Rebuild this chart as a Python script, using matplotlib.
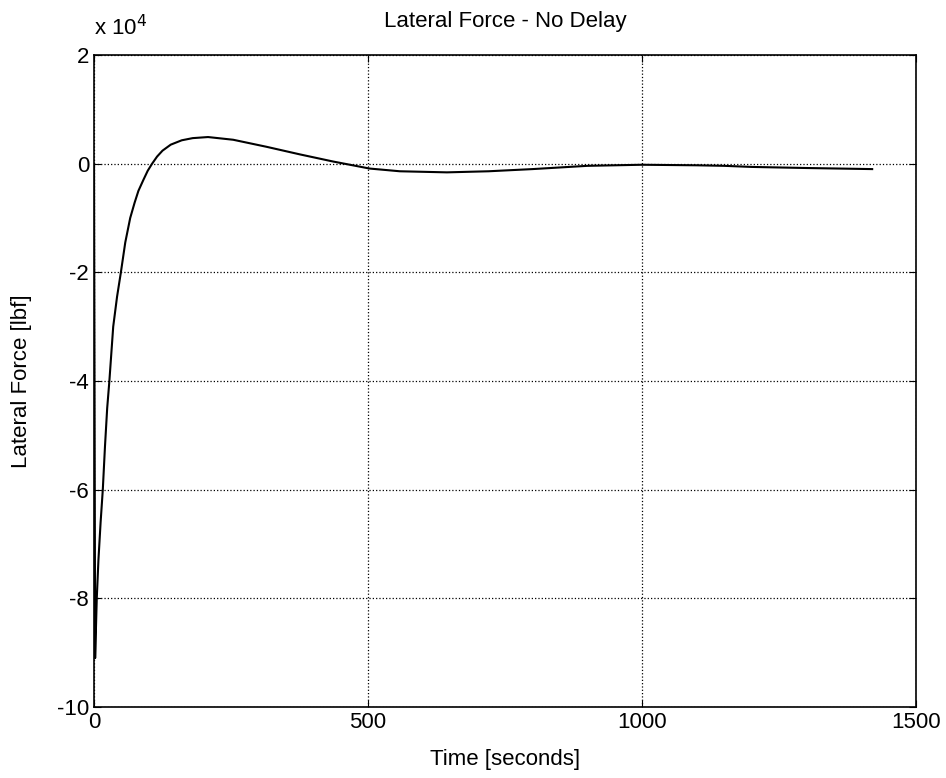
import matplotlib
matplotlib.use('Agg')
import matplotlib.pyplot as plt
import numpy as np
from matplotlib.ticker import FuncFormatter

plt.rcParams['font.family'] = ['Liberation Sans', 'DejaVu Sans']

# lateral force, in units of 1e4 lbf
t = [0, 2, 5, 8, 12, 16, 20, 24, 28, 35, 42, 49, 57, 66, 74, 81, 90, 98, 106,
     115, 125, 140, 160, 180, 208, 254, 315, 376, 436, 503, 558, 644, 720,
     800, 900, 1000, 1100, 1150, 1200, 1300, 1420]
force = [0.0, -9.1, -8.0, -7.3, -6.6, -6.0, -5.2, -4.5, -4.0, -3.0, -2.45,
         -2.0, -1.45, -1.0, -0.72, -0.5, -0.3, -0.13, 0.0, 0.13, 0.24, 0.35,
         0.43, 0.47, 0.49, 0.44, 0.31, 0.17, 0.04, -0.09, -0.14, -0.16, -0.14,
         -0.10, -0.04, -0.02, -0.03, -0.04, -0.06, -0.08, -0.10]
xticks = [0, 500, 1000, 1500]
yticks = [-10, -8, -6, -4, -2, 0, 2]

t = np.array(t)
force = np.array(force) * 1e4

fig = plt.figure(figsize=(9.46, 7.78), dpi=100)
ax = fig.add_axes([0.0994, 0.0913, 0.8689, 0.838])

ax.plot(t, force, color='black', linewidth=1.5)

ax.set_xlim(0, 1500)
ax.set_ylim(-10e4, 2e4)
ax.set_xticks(xticks)
ax.set_yticks([v * 1e4 for v in yticks])
ax.yaxis.set_major_formatter(FuncFormatter(lambda v, p: '%g' % (v / 1e4)))
ax.grid(True, color='black', linestyle=':', linewidth=0.9)
ax.tick_params(direction='in', top=True, right=True, labelsize=16, length=5)
for s in ax.spines.values():
    s.set_linewidth(1.2)

ax.set_title('Lateral Force - No Delay', fontsize=16, pad=20)
ax.set_xlabel('Time [seconds]', fontsize=16, labelpad=12)
ax.set_ylabel('Lateral Force [lbf]', fontsize=16, labelpad=18)
ax.text(0.0, 1.022, r'x 10$^4$', transform=ax.transAxes, fontsize=16,
        ha='left', va='bottom')

plt.savefig('out.png', dpi=100)
